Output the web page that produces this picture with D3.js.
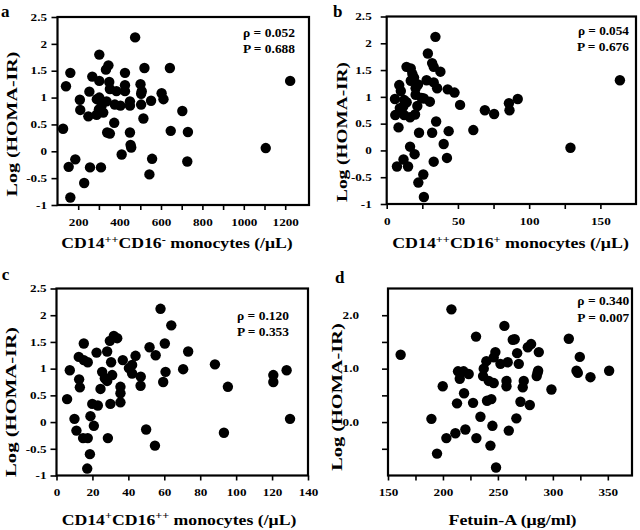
<!DOCTYPE html>
<html><head><meta charset="utf-8">
<script src="https://cdn.jsdelivr.net/npm/d3@7"></script>
<style>
body{margin:0;background:#fff}
svg text{font-family:"Liberation Serif","Times New Roman",Times,Tinos,"Nimbus Roman","FreeSerif",serif;font-weight:700;fill:#000}
</style></head>
<body><svg id="chart" width="640" height="530"></svg>
<script>
// ---- data ----
const yTicks = [-1, -0.5, 0, 0.5, 1, 1.5, 2, 2.5];
const yTicksD = [-0.5, 0, 0.5, 1, 1.5, 2];
const yLabelsD = [0, 1, 2];

const aTicks = [200, 400, 600, 800, 1000, 1200];
const aMinor = [300, 500, 700, 900, 1100];
const bTicks = [0, 50, 100, 150];
const bMinor = [25, 75, 125];
const cTicks = [0, 20, 40, 60, 80, 100, 120, 140];
const dTicks = [150, 200, 250, 300, 350];
const dMinor = [175, 225, 275, 325];

const rhoVals = ["0.052", "0.054", "0.120", "0.340"];
const pVals = ["0.688", "0.676", "0.353", "0.007"];
const panelLetters = ["a", "b", "c", "d"];

const aX = [475,302,1224,162,141,127,162,208,210,254,268,249,289,302,302,313,334,346,350,353,337,321,340,353,385,377,404,374,426,426,426,450,450,450,453,456,410,501,507,504,520,504,515,552,557,544,603,612,643,647,703,730,727,1106,229,154,186,257,310,300,290];
const aY = [2.12,1.80,1.31,1.46,1.21,0.42,-0.86,0.96,0.77,1.11,1.39,0.65,0.68,1.31,1.00,0.85,1.52,1.60,1.29,1.16,0.93,0.72,0.35,0.33,1.12,0.87,0.85,0.53,1.46,1.23,1.12,0.93,0.85,0.35,0.12,0.07,-0.06,1.25,1.12,1.07,1.55,0.87,0.61,0.94,-0.14,-0.43,1.08,0.97,1.55,0.38,0.75,0.36,-0.19,0.06,-0.59,-0.29,-0.15,-0.30,-0.30,0.78,0.97];

const bX = [34.2,28.9,163.7,31.9,33,37.7,13.9,16.9,18,19.2,16.9,28,33,35.4,42.8,47.6,8.8,9.9,20.3,20.3,5.8,12.3,26.1,30.3,21.5,51.5,11.6,9.2,6,12.3,16.4,19.9,8.3,34.7,22.7,31.9,43.5,60.8,68.9,75.4,85.8,86.2,92,129,16.4,19.6,40,42.3,33,7.2,11.8,15,25.7,22.2,26.1,24.5,14,22];
const bY = [2.12,1.81,1.31,1.63,1.56,1.47,1.56,1.53,1.43,1.36,1.30,1.31,1.27,1.16,1.14,1.08,1.22,1.11,1.16,1.04,0.96,0.94,0.97,0.91,0.83,0.85,0.82,0.79,0.66,0.66,0.62,0.67,0.43,0.54,0.33,0.33,0.36,0.38,0.75,0.68,0.88,0.75,0.96,0.05,0.07,-0.07,0.12,-0.14,-0.21,-0.30,-0.17,-0.30,-0.45,-0.60,-0.87,0.98,0.90,1.23];

const cX = [57.9,63.9,31.9,33.8,29.7,15.2,51.8,60.3,55.2,73.3,22.3,28.2,44,12.4,15.2,17.4,30.4,36.9,42.1,40.3,42.1,46.9,7.4,25.4,31,26.9,28.2,60.7,59.4,70.5,88.2,12.6,13,24.5,35.6,35.6,46.8,95.4,5.9,19.9,23,30,35.6,18.9,20.8,10,11.1,14.8,17.4,28.6,49.9,54.8,18.6,17.1,93.2,120.7,120.7,128.1,130];
const cY = [2.12,1.81,1.61,1.57,1.52,1.47,1.40,1.47,1.25,1.32,1.30,1.32,1.24,1.22,1.16,1.12,1.12,1.16,1.07,1.01,0.91,0.85,0.97,0.94,0.88,0.82,0.77,0.94,0.75,0.99,1.08,0.80,0.65,0.62,0.66,0.54,0.68,0.66,0.43,0.34,0.31,0.34,0.37,0.11,-0.07,0.06,-0.16,-0.30,-0.30,-0.30,-0.14,-0.44,-0.60,-0.87,-0.20,0.88,0.75,0.97,0.06];

const dX = [207.7,161.5,230.1,255.9,263.5,265.3,314.5,277.2,280.2,287.2,324.5,247.7,246.2,239.5,252.3,258.9,267.5,269,237.1,213.7,218.8,223.4,215.3,236.5,241.7,246.2,257.8,257.8,273.5,272.6,286,286.6,285.3,321.5,322.7,334.2,351.2,199.8,219.2,212.8,227.4,240.1,244,270.5,279,298.7,234.1,266.8,189.5,245,259.9,220.4,211.3,203.1,230.4,243.2,194.6,248.3];
const dY = [2.11,1.26,1.60,1.80,1.54,1.55,1.56,1.40,1.46,1.31,1.22,1.31,1.21,1.14,1.09,1.12,1.29,1.09,1.00,0.95,0.95,0.90,0.81,0.86,0.77,0.73,0.77,0.67,0.77,0.65,0.92,0.96,0.86,0.96,0.92,0.84,0.96,0.67,0.54,0.35,0.36,0.40,0.43,0.38,0.32,0.61,0.10,0.07,0.06,-0.07,-0.16,-0.14,-0.21,-0.30,-0.30,-0.44,-0.59,-0.85];

// ---- layout ----
const panels = [
  {xs:aX, ys:aY, xDom:[100,1315], major:aTicks, minor:aMinor, yT:yTicks, yLab:yTicks,
   L:57.5, R:309, T:17, B:205, yGap:10.5,
   letter:[1,16.5], stat:[295,36.7,53], xt:{cx:177,y:248,w:232, parts:[["CD14",0],["++",1],["CD16",0],["-",1],[" monocytes (/μL)",0]]},
   yt:{x:17,cy:124,w:145,fs:15}},
  {xs:bX, ys:bY, xDom:[0,175], major:bTicks, minor:bMinor, yT:yTicks, yLab:yTicks,
   L:386.7, R:636, T:16.5, B:204, yGap:15,
   letter:[333,16.5], stat:[629,35,50.7], xt:{cx:510.5,y:248.3,w:237, parts:[["CD14",0],["++",1],["CD16",0],["+",1],[" monocytes (/μL)",0]]},
   yt:{x:347,cy:132,w:140,fs:15}},
  {xs:cX, ys:cY, xDom:[0,140], major:cTicks, minor:[], yT:yTicks, yLab:yTicks,
   L:56.5, R:308, T:288.5, B:475.5, yGap:10,
   letter:[1.7,280], stat:[289,320,335.7], xt:{cx:179,y:524.5,w:235, parts:[["CD14",0],["+",1],["CD16",0],["++",1],[" monocytes (/μL)",0]]},
   yt:{x:16,cy:402,w:150,fs:15}},
  {xs:dX, ys:dY, xDom:[150,372], major:dTicks, minor:dMinor, yT:yTicksD, yLab:yLabelsD,
   L:388, R:632, T:288.5, B:475.5, yGap:29,
   letter:[335,283.3], stat:[629.3,305,321.7], xt:{cx:512.5,y:525,w:128.5, parts:[["Fetuin-A (μg/ml)",0]]},
   yt:{x:342,cy:397,w:148,fs:14}, fmt1:true}
];

const svg = d3.select("#chart");
const TFS = 9.5; // tick label font size

// measure digit width of the available font to stretch tick labels to the reference width
const probe = svg.append("text").attr("font-size", TFS).text("0000000000");
const TS = 6.6 / (probe.node().getBBox().width / 10);
probe.remove();

function fit(sel, target){
  const w = sel.node().getBBox().width;
  return target / w;
}

panels.forEach((p, i) => {
  const x = d3.scaleLinear().domain(p.xDom).range([p.L, p.R]);
  const y = d3.scaleLinear().domain([-1, 2.5]).range([p.B, p.T]);
  const g = svg.append("g");

  if (p.minor.length) {
    const mn = g.append("g").attr("transform", `translate(0,${p.B})`)
      .call(d3.axisBottom(x).tickValues(p.minor).tickSize(5).tickSizeOuter(0).tickFormat(""));
    mn.select(".domain").remove();
    mn.selectAll("line").attr("stroke-width", 1.6);
  }
  const xa = g.append("g").attr("transform", `translate(0,${p.B})`)
    .call(d3.axisBottom(x).tickValues(p.major).tickSize(5).tickSizeOuter(0).tickFormat(d => String(d)));
  xa.select(".domain").remove();
  xa.selectAll("line").attr("stroke-width", 1.6);
  xa.selectAll("text").attr("y", 21).attr("dy", null)
    .attr("font-size", TFS).attr("transform", `scale(${TS},1)`);

  const fmt = p.fmt1 ? (d => p.yLab.includes(d) ? d.toFixed(1) : "")
                     : (d => (d < 0 ? "-" : "") + Math.abs(d));
  const ya = g.append("g").attr("transform", `translate(${p.L},0)`)
    .call(d3.axisLeft(y).tickValues(p.yT).tickSize(6).tickSizeOuter(0).tickFormat(fmt));
  ya.select(".domain").remove();
  ya.selectAll("line").attr("stroke-width", 1.6);
  ya.selectAll("text").attr("x", -p.yGap / TS).attr("dy", "0.34em")
    .attr("font-size", TFS).attr("transform", `scale(${TS},1)`);
  xa.attr("font-family", null); ya.attr("font-family", null);

  g.append("rect").attr("x", p.L).attr("y", p.T)
    .attr("width", p.R - p.L).attr("height", p.B - p.T)
    .attr("fill", "none").attr("stroke", "#000").attr("stroke-width", 2.2);

  g.append("g").selectAll("circle").data(p.xs.map((v, k) => [v, p.ys[k]])).join("circle")
    .attr("cx", d => x(d[0])).attr("cy", d => y(d[1])).attr("r", 5.2).attr("fill", "#000");

  [["ρ = " + rhoVals[i], p.stat[1]], ["P = " + pVals[i], p.stat[2]]].forEach(([s, yy]) => {
    const t = g.append("text").attr("text-anchor", "end").attr("font-size", 12.5).text(s);
    const k = fit(t, 52);
    t.attr("transform", `translate(${p.stat[0]},${yy}) scale(${k},1)`);
  });

  g.append("text").attr("x", p.letter[0]).attr("y", p.letter[1])
    .attr("font-size", 17).text(panelLetters[i]);

  const xt = g.append("text").attr("font-size", 14.5).attr("text-anchor", "middle");
  p.xt.parts.forEach(([s, sup]) => {
    xt.append("tspan").attr("font-size", sup ? 10 : 14.5)
      .attr("baseline-shift", sup ? "55%" : null).text(s);
  });
  const sx = fit(xt, p.xt.w);
  xt.attr("transform", `translate(${p.xt.cx},${p.xt.y}) scale(${sx},1)`);

  const yt = g.append("text").attr("font-size", p.yt.fs).attr("text-anchor", "middle").text("Log (HOMA-IR)");
  const sy = fit(yt, p.yt.w);
  yt.attr("transform", `translate(${p.yt.x},${p.yt.cy}) rotate(-90) scale(${sy},1)`);
});
</script></body></html>
